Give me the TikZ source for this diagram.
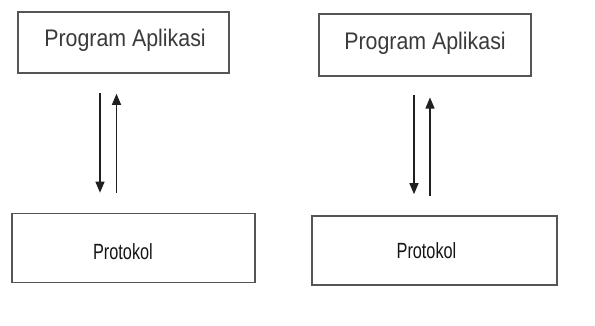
\documentclass[tikz,border=0pt]{standalone}
\usepackage{fontspec}
\setmainfont{Liberation Sans}
\usetikzlibrary{arrows.meta}
\definecolor{boxline}{HTML}{555555}
\definecolor{apptext}{HTML}{3A3A3A}
\definecolor{prottext}{HTML}{151515}
\definecolor{arrowline}{HTML}{202020}
\tikzset{
  layerbox/.style={draw=boxline, line width=1.6pt, inner sep=0pt},
  applabel/.style={text=apptext, font=\fontsize{24}{24}\selectfont, anchor=base, inner sep=0pt, xscale=0.89},
  protlabel/.style={text=prottext, font=\fontsize{22}{22}\selectfont, anchor=base, inner sep=0pt, xscale=0.74},
  flow/.style={draw=arrowline, line width=1.3pt, -{Triangle[length=11pt,width=9pt]}}
}
\begin{document}
\begin{tikzpicture}[x=1pt, y=1pt]
  \useasboundingbox (0,0) rectangle (595,-325);
  \fill[white] (0,0) rectangle (595,-325);

  % left stack
  \node[layerbox, minimum width=211pt, minimum height=61pt] (app1) at (123.5,-42.5) {};
  \node[applabel] (app1t) at (125,-46) {Program Aplikasi};
  \node[layerbox, minimum width=243pt, minimum height=69pt] (prot1) at (133.3,-248) {};
  \node[protlabel] (prot1t) at (123,-259) {Protokol};
  \draw[flow, shorten <=19pt, shorten >=20pt] ([xshift=-23.5pt]app1.south) -- ([xshift=-33.3pt]prot1.north);
  \draw[flow, shorten <=20pt, shorten >=20pt] ([xshift=-16.8pt]prot1.north) -- ([xshift=-7pt]app1.south);

  % right stack
  \node[layerbox, minimum width=212pt, minimum height=62pt] (app2) at (425,-45) {};
  \node[applabel] (app2t) at (425,-49) {Program Aplikasi};
  \node[layerbox, minimum width=245pt, minimum height=69pt] (prot2) at (434.5,-250.5) {};
  \node[protlabel] (prot2t) at (426.5,-258.3) {Protokol};
  \draw[flow, shorten <=18pt, shorten >=21pt] ([xshift=-11pt]app2.south) -- ([xshift=-20.5pt]prot2.north);
  \draw[flow, shorten <=19pt, shorten >=20.7pt] ([xshift=-4.5pt]prot2.north) -- ([xshift=5pt]app2.south);
\end{tikzpicture}
\end{document}
